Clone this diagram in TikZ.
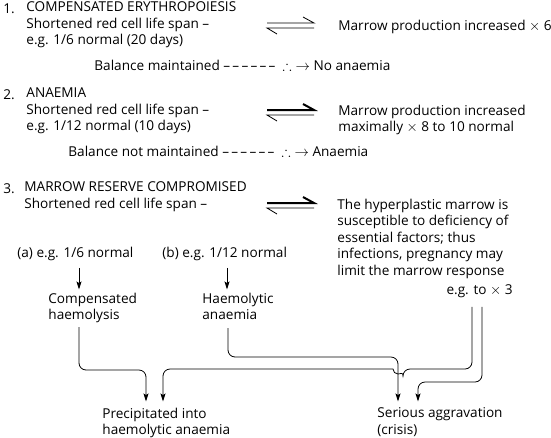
\documentclass[tikz,border=0pt]{standalone}
\usepackage{amssymb}
\usepackage{fontspec}
\setmainfont{Open Sans}
\usetikzlibrary{arrows.meta}
\begin{document}
\begin{tikzpicture}[x=1pt, y=-1pt, line width=0.8pt, >={Stealth[length=8pt, width=5pt, inset=1.5pt]},
    every node/.style={anchor=north west, inner sep=0pt, yshift=-3pt, align=left, font=\fontsize{13.6}{16.5}\selectfont, execute at begin node=\strut, execute at end node=\strut},
    link/.style={->, rounded corners=7pt, shorten <=5pt, shorten >=6pt}]

    \useasboundingbox (0,0) rectangle (551,437);

    % First case.
    \node (num1) at (3,-1.5) {1.};
    \node (sec1) at (26,-1.5) {COMPENSATED ERYTHROPOIESIS\\Shortened red cell life span –\\e.g. 1/6 normal (20 days)};
    \node (mar1) at (338,15.5) {Marrow production increased $\times$ 6};
    \node (bal1) at (94,55.5) {Balance maintained –\,–\,–\,–\,–\,– \ $\therefore\;\rightarrow$ No anaemia};

    % Second case.
    \node (num2) at (3,84.5) {2.};
    \node (sec2) at (26,84.5) {ANAEMIA\\Shortened red cell life span –\\e.g. 1/12 normal (10 days)};
    \node (mar2) at (338,101.5) {Marrow production increased\\maximally $\times$ 8 to 10 normal};
    \node (bal2) at (68,141.5) {Balance not maintained –\,–\,–\,–\,–\,– \ $\therefore\;\rightarrow$ Anaemia};

    % Third case.
    \node (num3) at (3,178.5) {3.};
    \node (sec3) at (24,178.5) {MARROW RESERVE COMPROMISED\\Shortened red cell life span –};
    \node (hyper) at (337,195.5) {The hyperplastic marrow is\\susceptible to deficiency of\\essential factors; thus\\infections, pregnancy may\\limit the marrow response};
    \node[anchor=north east] (eg3) at (513,279.5) {e.g. to $\times$ 3};

    % Equilibrium harpoons.
    \foreach \y/\w in {23/0.8pt, 110/2pt, 203/2pt} {
        \draw[line width=\w] (267,\y) -- (314,\y) -- (303,\y-6);
        \draw (314,\y+5) -- (267,\y+5) -- (277,\y+11);
    }

    % Sub-cases.
    \node (casea) at (17,242.5) {(a) e.g. 1/6 normal};
    \node (caseb) at (162,242.5) {(b) e.g. 1/12 normal};
    \node (comp) at (48,289.5) {Compensated\\haemolysis};
    \node (haem) at (202,289.5) {Haemolytic\\anaemia};
    \draw[->, shorten <=5pt, shorten >=3pt] (79,0 |- casea.south) -- (79,0 |- comp.north);
    \draw[->, shorten <=5pt, shorten >=3pt] (227,0 |- caseb.south) -- (227,0 |- haem.north);

    % Outcomes.
    \node (precip) at (102,404.5) {Precipitated into\\haemolytic anaemia};
    \node (serious) at (377,404.5) {Serious aggravation\\(crisis)};

    \draw[link, shorten <=2pt] (79,0 |- comp.south) -- (79,370) -- (146,370) -- (146,0 |- precip.north);
    \draw[link, shorten <=3pt] (228,0 |- haem.south) -- (228,357) -- (398,357) -- (398,0 |- serious.north);
    \draw[link, shorten <=7pt] (472,0 |- eg3.south) -- (472,369) -- (403,369) [sharp corners] arc[start angle=0, end angle=180, radius=5] [rounded corners=7pt] -- (163,369) -- (163,0 |- precip.north);
    \draw[link, shorten <=7pt] (482,0 |- eg3.south) -- (482,382) -- (418,382) -- (418,0 |- serious.north);

\end{tikzpicture}
\end{document}
